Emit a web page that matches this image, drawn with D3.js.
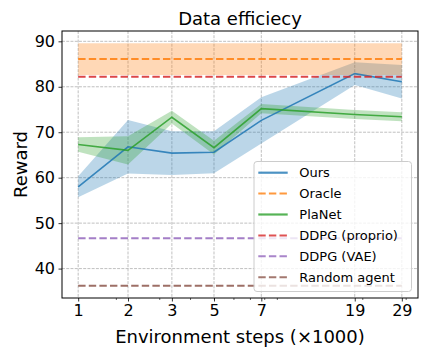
<!DOCTYPE html>
<html>
<head>
<meta charset="utf-8">
<script src="https://cdn.jsdelivr.net/npm/d3@7"></script>
<style>
  html, body { margin: 0; padding: 0; background: #fff; }
  svg { display: block; font-family: "DejaVu Sans", sans-serif; }
</style>
</head>
<body>
<svg id="chart" width="432" height="360"></svg>
<script>
// ---------------- data ----------------
const xSteps = [1.4, 2.23, 3.36, 4.98, 7.75, 18.55, 28.8];   // thousands of steps (log axis)
const xTickLabels = ["1", "2", "3", "5", "7", "19", "29"];
const yTicks = [40, 50, 60, 70, 80, 90];

const oursMean = [58.0, 66.8, 65.4, 65.6, 72.6, 82.9, 81.1];
const oursStd  = [2.3, 5.9, 4.8, 4.6, 5.1, 2.5, 3.7];
const planetMean = [67.3, 66.0, 73.3, 66.6, 75.2, 73.9, 73.4];
const planetStd  = [1.6, 3.1, 1.4, 1.5, 1.0, 1.0, 1.0];
const oracleMean = 86.1, oracleStd = 3.5;
const ddpgProprio = 82.2;
const ddpgVAE = 46.7;
const randomAgent = 36.2;

const seriesNames = ["Ours", "Oracle", "PlaNet", "DDPG (proprio)", "DDPG (VAE)", "Random agent"];
const seriesColors = ["#1f77b4", "#ff7f0e", "#2ca02c", "#d62728", "#9467bd", "#8c564b"];
const seriesDashed = [false, true, false, true, true, true];

// ---------------- layout ----------------
const svg = d3.select("#chart");
const L = 62, R = 418, T = 31, B = 298;

// matplotlib-like 5% margins
const lx0 = Math.log(d3.min(xSteps)), lx1 = Math.log(d3.max(xSteps));
const mx = (lx1 - lx0) * 0.05;
const x = d3.scaleLog().domain([Math.exp(lx0 - mx), Math.exp(lx1 + mx)]).range([L, R]);

const allY = [randomAgent, oracleMean + oracleStd, ...oursMean.map((m, i) => m - oursStd[i]),
              ...oursMean.map((m, i) => m + oursStd[i])];
const y0 = d3.min(allY), y1 = d3.max(allY), my = (y1 - y0) * 0.05;
const y = d3.scaleLinear().domain([y0 - my, y1 + my]).range([B, T]);

// ---------------- grid ----------------
const grid = svg.append("g").attr("stroke", "#b0b0b0").attr("stroke-width", 0.8)
  .attr("stroke-dasharray", "2.96,1.28");
xSteps.forEach(v => grid.append("line").attr("x1", x(v)).attr("x2", x(v)).attr("y1", T).attr("y2", B));
yTicks.forEach(v => grid.append("line").attr("x1", L).attr("x2", R).attr("y1", y(v)).attr("y2", y(v)));

// ---------------- bands ----------------
const idx = d3.range(xSteps.length);
const bandArea = (mean, std) => d3.area()
  .x(i => x(xSteps[i])).y0(i => y(mean[i] - std[i])).y1(i => y(mean[i] + std[i]))(idx);

svg.append("path").attr("d", bandArea(oursMean, oursStd)).attr("fill", seriesColors[0]).attr("fill-opacity", 0.3);
svg.append("path").attr("d", bandArea(xSteps.map(() => oracleMean), xSteps.map(() => oracleStd)))
  .attr("fill", seriesColors[1]).attr("fill-opacity", 0.3);
svg.append("path").attr("d", bandArea(planetMean, planetStd)).attr("fill", seriesColors[2]).attr("fill-opacity", 0.3);

// ---------------- lines ----------------
const lineGen = vals => d3.line().x(i => x(xSteps[i])).y(i => y(vals[i]))(idx);
const seriesVals = [
  oursMean,
  xSteps.map(() => oracleMean),
  planetMean,
  xSteps.map(() => ddpgProprio),
  xSteps.map(() => ddpgVAE),
  xSteps.map(() => randomAgent)
];
seriesVals.forEach((vals, k) => {
  svg.append("path").attr("d", lineGen(vals)).attr("fill", "none")
    .attr("stroke", seriesColors[k]).attr("stroke-opacity", 0.85)
    .attr("stroke-width", seriesDashed[k] ? 2 : 1.6)
    .attr("stroke-dasharray", seriesDashed[k] ? "7.4,3.2" : null);
});

// ---------------- axes ----------------
const xAxis = d3.axisBottom(x).tickValues(xSteps).tickFormat((d, i) => xTickLabels[i])
  .tickSize(3.5).tickPadding(3.5);
const gx = svg.append("g").attr("transform", `translate(0,${B})`).call(xAxis);
gx.select(".domain").remove();
gx.selectAll("text").attr("font-size", 16).attr("fill", "#000").attr("font-family", "DejaVu Sans");
gx.selectAll("line").attr("stroke", "#000").attr("stroke-width", 0.8);

// minor ticks (log locator at 2..9 x decade)
const minorVals = [2, 3, 4, 5, 6, 7, 8, 9, 20, 30].filter(v => v >= x.domain()[0] && v <= x.domain()[1]);
const gm = svg.append("g").attr("stroke", "#000").attr("stroke-width", 0.6);
minorVals.forEach(v => gm.append("line").attr("x1", x(v)).attr("x2", x(v)).attr("y1", B).attr("y2", B + 2));

const yAxis = d3.axisLeft(y).tickValues(yTicks).tickSize(3.5).tickPadding(3.5);
const gy = svg.append("g").attr("transform", `translate(${L},0)`).call(yAxis);
gy.select(".domain").remove();
gy.selectAll("text").attr("font-size", 16).attr("fill", "#000").attr("font-family", "DejaVu Sans");
gy.selectAll("line").attr("stroke", "#000").attr("stroke-width", 0.8);

// spines
svg.append("rect").attr("x", L).attr("y", T).attr("width", R - L).attr("height", B - T)
  .attr("fill", "none").attr("stroke", "#000").attr("stroke-width", 1);

// ---------------- labels ----------------
svg.append("text").attr("x", (L + R) / 2).attr("y", 25).attr("text-anchor", "middle")
  .attr("font-size", 18).text("Data efficiecy");
svg.append("text").attr("x", (L + R) / 2).attr("y", 343).attr("text-anchor", "middle")
  .attr("font-size", 18).text("Environment steps (×1000)");
svg.append("text").attr("transform", `translate(27,${(T + B) / 2}) rotate(-90)`)
  .attr("text-anchor", "middle").attr("font-size", 18).text("Reward");

// ---------------- legend ----------------
const lg = svg.append("g");
lg.append("rect").attr("x", 254).attr("y", 161.5).attr("width", 157.5).attr("height", 130)
  .attr("rx", 3).attr("fill", "#fff").attr("fill-opacity", 0.8)
  .attr("stroke", "#cccccc").attr("stroke-width", 1);
seriesNames.forEach((name, k) => {
  const yy = 172.7 + k * 20.9;
  lg.append("line").attr("x1", 258.3).attr("x2", 287.7).attr("y1", yy).attr("y2", yy)
    .attr("stroke", seriesColors[k]).attr("stroke-opacity", 0.8)
    .attr("stroke-width", seriesDashed[k] ? 2 : 2.2)
    .attr("stroke-dasharray", seriesDashed[k] ? "7.4,3.2" : null);
  lg.append("text").attr("x", 299.3).attr("y", yy).attr("dy", "0.35em")
    .attr("font-size", 13).text(name);
});
</script>
</body>
</html>
